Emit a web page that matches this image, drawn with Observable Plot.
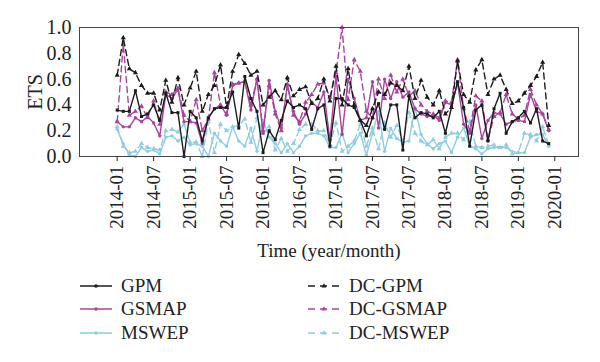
<!DOCTYPE html>
<html>
<head>
<meta charset="utf-8">
<script src="https://cdn.jsdelivr.net/npm/d3@7"></script>
<script src="https://cdn.jsdelivr.net/npm/@observablehq/plot@0.6"></script>
<style>
  html, body { margin: 0; padding: 0; background: #fff; }
  body { width: 600px; height: 362px; overflow: hidden; font-family: "Liberation Serif", "DejaVu Serif", serif; }
  #legend { position: relative; height: 96px; font-size: 19px; color: #222; }
  .item { position: absolute; display: flex; align-items: center; height: 22px; }
  .item svg { margin-right: 9px; }
</style>
</head>
<body>
<div id="chart"></div>
<div id="legend"></div>
<script>
const tickLabels = ["2014-01","2014-07","2015-01","2015-07","2016-01","2016-07","2017-01","2017-07","2017-07","2018-01","2018-07","2019-01","2020-01"];

const gpm = [0.36,0.35,0.35,0.51,0.31,0.33,0.40,0.28,0.49,0.34,0.34,0.00,
  0.35,0.30,0.12,0.30,0.37,0.38,0.38,0.50,0.22,0.62,0.45,0.35,
  0.03,0.20,0.13,0.28,0.43,0.38,0.40,0.37,0.21,0.37,0.40,0.08,
  0.45,0.45,0.40,0.38,0.28,0.16,0.30,0.41,0.21,0.40,0.40,0.05,
  0.47,0.30,0.34,0.33,0.30,0.35,0.18,0.38,0.58,0.38,0.08,0.36,
  0.40,0.12,0.37,0.49,0.18,0.27,0.30,0.35,0.26,0.37,0.12,0.10];
const gsmap = [0.27,0.23,0.23,0.30,0.27,0.31,0.26,0.16,0.48,0.45,0.52,0.27,
  0.27,0.26,0.10,0.30,0.37,0.40,0.32,0.55,0.57,0.58,0.36,0.60,
  0.18,0.59,0.35,0.22,0.55,0.35,0.25,0.33,0.42,0.38,0.50,0.13,
  0.62,0.17,0.60,0.45,0.28,0.30,0.58,0.22,0.60,0.45,0.58,0.46,
  0.50,0.37,0.33,0.31,0.32,0.28,0.42,0.40,0.57,0.25,0.18,0.40,
  0.14,0.28,0.34,0.33,0.25,0.27,0.28,0.27,0.48,0.35,0.33,0.20];
const mswep = [0.21,0.10,0.01,0.00,0.07,0.04,0.05,0.02,0.15,0.16,0.12,0.15,
  0.09,0.10,0.08,0.00,0.18,0.12,0.08,0.23,0.12,0.08,0.22,0.04,
  0.28,0.15,0.10,0.03,0.10,0.03,0.08,0.16,0.18,0.18,0.16,0.07,
  0.07,0.18,0.03,0.10,0.18,0.01,0.18,0.35,0.04,0.22,0.14,0.11,
  0.12,0.38,0.17,0.10,0.06,0.10,0.12,0.03,0.15,0.22,0.08,0.06,
  0.02,0.06,0.07,0.07,0.07,0.04,0.03,0.03,0.15,0.17,0.17,0.08];
const dcGpm = [0.63,0.92,0.68,0.65,0.55,0.49,0.49,0.36,0.59,0.42,0.61,0.40,
  0.53,0.66,0.35,0.48,0.55,0.71,0.38,0.66,0.79,0.72,0.63,0.66,
  0.40,0.46,0.51,0.44,0.61,0.47,0.52,0.54,0.41,0.45,0.60,0.43,
  0.70,0.40,0.68,0.40,0.28,0.24,0.37,0.50,0.48,0.57,0.55,0.51,
  0.70,0.45,0.59,0.46,0.40,0.51,0.33,0.38,0.74,0.48,0.42,0.67,
  0.75,0.48,0.60,0.63,0.52,0.41,0.43,0.49,0.55,0.62,0.73,0.24];
const dcGsmap = [0.27,0.87,0.32,0.35,0.39,0.30,0.43,0.25,0.50,0.48,0.53,0.32,
  0.27,0.44,0.20,0.29,0.65,0.40,0.33,0.56,0.57,0.58,0.40,0.60,
  0.20,0.55,0.33,0.20,0.56,0.32,0.27,0.42,0.48,0.56,0.57,0.46,
  0.65,1.00,0.44,0.75,0.66,0.35,0.30,0.60,0.45,0.63,0.50,0.60,
  0.47,0.51,0.40,0.35,0.33,0.30,0.43,0.42,0.75,0.37,0.20,0.47,
  0.43,0.13,0.31,0.34,0.48,0.33,0.29,0.32,0.52,0.40,0.33,0.21];
const dcMswep = [0.23,0.08,0.03,0.04,0.10,0.07,0.06,0.05,0.20,0.21,0.19,0.25,
  0.11,0.11,0.00,0.27,0.03,0.25,0.20,0.23,0.24,0.29,0.11,0.30,
  0.18,0.23,0.05,0.14,0.04,0.10,0.21,0.25,0.25,0.20,0.20,0.09,
  0.26,0.04,0.08,0.12,0.25,0.08,0.22,0.06,0.26,0.15,0.24,0.12,
  0.34,0.18,0.12,0.09,0.13,0.06,0.15,0.18,0.18,0.13,0.27,0.08,
  0.07,0.08,0.09,0.07,0.09,0.02,0.03,0.18,0.17,0.12,0.23,0.09];

const BLACK = "#1c1c1c", MAG = "#a8449e", BLUE = "#8ecde2";
const series = [
  {name: "GPM", values: gpm, color: BLACK, dash: null, symbol: "square"},
  {name: "GSMAP", values: gsmap, color: MAG, dash: null, symbol: "circle"},
  {name: "MSWEP", values: mswep, color: BLUE, dash: null, symbol: "circle"},
  {name: "DC-GPM", values: dcGpm, color: BLACK, dash: "6,4", symbol: "triangle"},
  {name: "DC-GSMAP", values: dcGsmap, color: MAG, dash: "6,4", symbol: "triangle"},
  {name: "DC-MSWEP", values: dcMswep, color: BLUE, dash: "6,4", symbol: "triangle"}
];
// draw order: light blue first, then magenta, then black on top
const order = [2, 5, 1, 4, 0, 3];

const marks = [];
for (const k of order) {
  const s = series[k];
  const data = s.values.map((v, i) => ({i, v}));
  marks.push(Plot.line(data, {x: "i", y: "v", stroke: s.color, strokeWidth: 1.4, strokeDasharray: s.dash || undefined}));
  marks.push(Plot.dot(data, {x: "i", y: "v", fill: s.color, stroke: "none", symbol: s.symbol, r: s.symbol === "triangle" ? 1.9 : 1.7}));
}

const chart = Plot.plot({
  width: 600,
  height: 266,
  marginLeft: 79,
  marginRight: 22,
  marginTop: 27,
  marginBottom: 110,
  style: {fontFamily: "'Liberation Serif', 'DejaVu Serif', serif", fontSize: "19px", color: "#222", background: "#fff"},
  x: {type: "linear", domain: [-6.2, 75.9]},
  y: {domain: [0, 1]},
  marks: [
    Plot.axisY({ticks: d3.range(0, 1.01, 0.2), tickFormat: d3.format(".1f"), tickSize: 0, tickPadding: 8, fontSize: 20,
      label: "ETS", labelArrow: "none", labelAnchor: "center", labelOffset: 52}),
    Plot.axisX({ticks: d3.range(0, 73, 6), tickFormat: (d) => tickLabels[d / 6], tickRotate: -90, tickSize: 5, tickPadding: 4, fontSize: 19,
      label: "Time (year/month)", labelArrow: "none", labelAnchor: "center", labelOffset: 100}),
    ...marks,
    Plot.frame({stroke: "#444", strokeWidth: 1})
  ]
});
document.getElementById("chart").appendChild(chart);

// legend
const legend = d3.select("#legend");
const pos = [[80, 9], [80, 32], [80, 56], [308, 9], [308, 32], [308, 56]];
series.forEach((s, k) => {
  const item = legend.append("div").attr("class", "item").style("left", pos[k][0] + "px").style("top", pos[k][1] + "px");
  const svg = item.append("svg").attr("width", 32).attr("height", 10);
  svg.append("line").attr("x1", 0).attr("x2", 32).attr("y1", 5).attr("y2", 5)
    .attr("stroke", s.color).attr("stroke-width", 1.5).attr("stroke-dasharray", s.dash ? "7,5" : null);
  const sym = s.symbol === "triangle" ? d3.symbolTriangle : d3.symbolCircle;
  svg.append("path").attr("d", d3.symbol(sym, 10)()).attr("transform", "translate(16,5)").attr("fill", s.color);
  item.append("span").text(s.name);
});
</script>
</body>
</html>
